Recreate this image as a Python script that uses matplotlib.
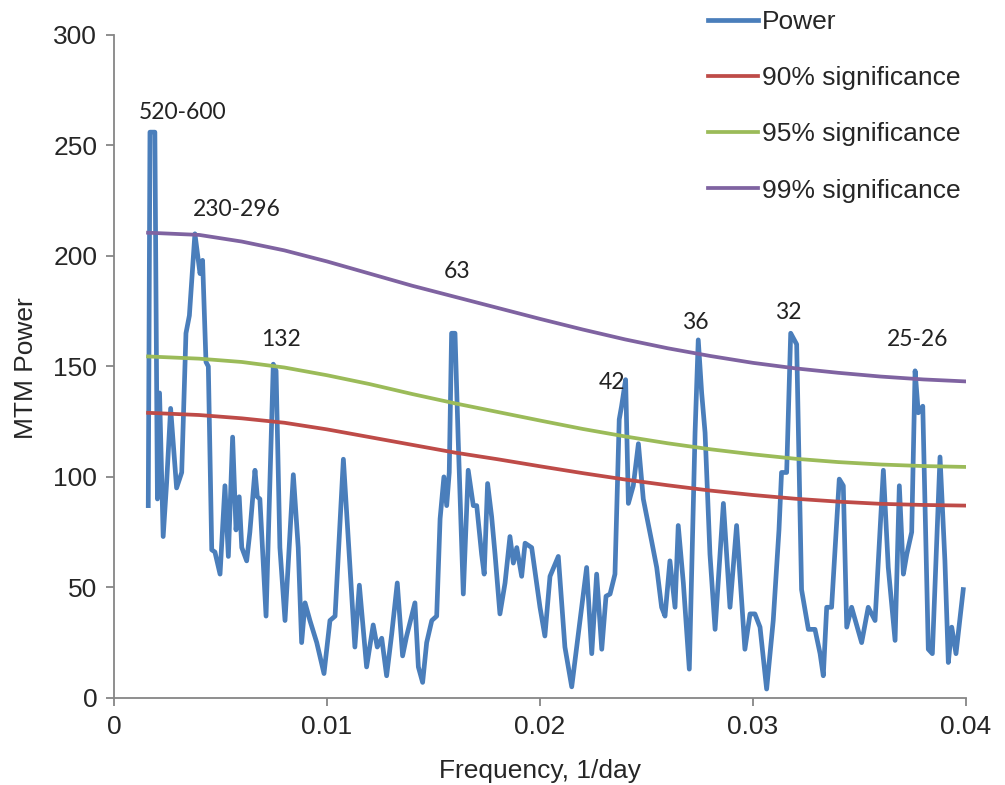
import matplotlib
matplotlib.use("Agg")
import matplotlib.pyplot as plt

# MTM power spectrum (frequency in 1/day)
freq = [0.00161, 0.00169, 0.00192, 0.00204, 0.00214, 0.00231, 0.00247, 0.00266,
        0.00294, 0.00318, 0.00338, 0.00354, 0.00380, 0.00396, 0.00404, 0.00416,
        0.00432, 0.00443, 0.00459, 0.00474, 0.00498, 0.00521, 0.00537, 0.00557,
        0.00573, 0.00588, 0.00600, 0.00623, 0.00638, 0.00662, 0.00673, 0.00685,
        0.00714, 0.00748, 0.00761, 0.00779, 0.00803, 0.00842, 0.00865, 0.00881,
        0.00897, 0.00920, 0.00952, 0.00986, 0.01014, 0.01038, 0.01077, 0.01108,
        0.01131, 0.01152, 0.01186, 0.01217, 0.01236, 0.01257, 0.01280, 0.01304,
        0.01330, 0.01355, 0.01374, 0.01413, 0.01429, 0.01449, 0.01468, 0.01492,
        0.01515, 0.01531, 0.01549, 0.01562, 0.01574, 0.01585, 0.01601, 0.01616,
        0.01640, 0.01663, 0.01687, 0.01703, 0.01726, 0.01738, 0.01754, 0.01773,
        0.01789, 0.01812, 0.01836, 0.01859, 0.01875, 0.01891, 0.01914, 0.01930,
        0.01961, 0.02000, 0.02023, 0.02047, 0.02086, 0.02117, 0.02149, 0.02188,
        0.02219, 0.02243, 0.02266, 0.02290, 0.02310, 0.02329, 0.02352, 0.02372,
        0.02383, 0.02402, 0.02415, 0.02438, 0.02462, 0.02485, 0.02524, 0.02548,
        0.02571, 0.02587, 0.02610, 0.02634, 0.02649, 0.02673, 0.02701, 0.02728,
        0.02743, 0.02759, 0.02775, 0.02798, 0.02822, 0.02861, 0.02892, 0.02923,
        0.02962, 0.02986, 0.03009, 0.03033, 0.03064, 0.03095, 0.03122, 0.03134,
        0.03158, 0.03177, 0.03205, 0.03228, 0.03260, 0.03291, 0.03315, 0.03330,
        0.03346, 0.03369, 0.03405, 0.03424, 0.03440, 0.03463, 0.03510, 0.03541,
        0.03573, 0.03612, 0.03635, 0.03667, 0.03687, 0.03706, 0.03722, 0.03745,
        0.03761, 0.03776, 0.03797, 0.03823, 0.03842, 0.03878, 0.03901, 0.03917,
        0.03933, 0.03953, 0.03987]
power = [87, 256, 256, 90, 138, 73, 97, 131,
         95, 102, 165, 173, 210, 198, 192, 198,
         152, 150, 67, 66, 56, 96, 64, 118,
         76, 91, 68, 62, 75, 103, 91, 90,
         37, 151, 148, 68, 35, 101, 68, 25,
         43, 35, 25, 11, 35, 37, 108, 59,
         23, 51, 14, 33, 23, 27, 10, 29,
         52, 19, 28, 43, 14, 7, 25, 35,
         37, 81, 100, 87, 102, 165, 165, 117,
         47, 103, 87, 87, 65, 56, 97, 82,
         65, 38, 52, 73, 61, 68, 55, 70,
         68, 41, 28, 55, 64, 23, 5, 35,
         59, 20, 56, 22, 46, 47, 56, 126,
         132, 144, 88, 96, 115, 90, 71, 59,
         41, 37, 62, 41, 78, 52, 13, 120,
         162, 138, 120, 65, 31, 88, 41, 78,
         22, 38, 38, 32, 4, 35, 76, 102,
         102, 165, 160, 49, 31, 31, 20, 10,
         41, 41, 99, 96, 32, 41, 25, 41,
         35, 103, 59, 26, 96, 56, 65, 75,
         148, 129, 132, 22, 20, 109, 62, 16,
         32, 20, 49]

# significance levels
sig_freq = [0.0016, 0.004, 0.006, 0.008, 0.010, 0.012, 0.014, 0.016, 0.018, 0.020,
            0.022, 0.024, 0.026, 0.028, 0.030, 0.032, 0.034, 0.036, 0.038, 0.040]
sig90 = [129, 128, 126.5, 124.5, 121.5, 118, 114.5, 111, 108, 104.8,
         101.7, 98.8, 96.2, 93.8, 91.8, 90.1, 88.8, 87.8, 87.3, 87]
sig95 = [154.5, 153.5, 152, 149.5, 146, 142, 137.5, 133.3, 129.4, 125.5,
         121.7, 118.3, 115.2, 112.5, 110.2, 108.2, 106.7, 105.6, 104.9, 104.5]
sig99 = [210.5, 209.5, 206.5, 202.5, 197.5, 192, 186.5, 181.5, 176.5, 171.5,
         166.7, 162.2, 158.2, 154.7, 151.6, 149.1, 147.1, 145.4, 144.1, 143.2]

# period labels (days) placed above the peaks
peak_labels = ["520-600", "230-296", "132", "63", "42", "36", "32", "25-26"]
label_freq = [0.00324, 0.00577, 0.00784, 0.0161, 0.02338, 0.02728, 0.03164, 0.03775]
label_pow = [265, 221, 162, 193, 142.5, 170, 174.6, 162]

plt.rcParams["font.family"] = ["Liberation Sans", "DejaVu Sans"]

fig = plt.figure(figsize=(10.05, 7.85), dpi=100)
ax = fig.add_axes([0.1134, 0.111, 0.8478, 0.8445])

ax.plot(freq, power, color="#4A7EBB", lw=3.4, solid_joinstyle="round",
        label="Power", zorder=2)
ax.plot(sig_freq, sig90, color="#BE4B48", lw=2.7, label="90% significance", zorder=3)
ax.plot(sig_freq, sig95, color="#9BBB59", lw=2.7, label="95% significance", zorder=3)
ax.plot(sig_freq, sig99, color="#7F63A1", lw=2.7, label="99% significance", zorder=3)

for txt, fx, py in zip(peak_labels, label_freq, label_pow):
    ax.text(fx, py, txt, fontsize=16.5, family=["Lato", "DejaVu Sans"],
            color="#222222", ha="center", va="center")

ax.set_xlim(0, 0.04)
ax.set_ylim(0, 300)
ax.set_xticks([0, 0.01, 0.02, 0.03, 0.04])
ax.set_xticklabels(["0", "0.01", "0.02", "0.03", "0.04"])
ax.set_yticks(range(0, 301, 50))

for side in ["top", "right"]:
    ax.spines[side].set_visible(False)
for side in ["left", "bottom"]:
    ax.spines[side].set_color("#868686")
    ax.spines[side].set_linewidth(1.3)
ax.tick_params(colors="#868686", labelcolor="#262626", labelsize=19,
               length=6, width=1.3, direction="out", pad=6)

ax.set_xlabel("Frequency, 1/day", fontsize=19, color="#262626", labelpad=15)
ax.set_ylabel("MTM Power", fontsize=19, color="#262626")
ax.yaxis.set_label_coords(-0.089, 0.497)

leg = ax.legend(loc="upper left", bbox_to_anchor=(708 / 1005, 1 - 10 / 785),
                bbox_transform=fig.transFigure, frameon=False, fontsize=19,
                handlelength=1.9, handletextpad=0.15, labelspacing=1.22,
                borderpad=0, borderaxespad=0)
for t in leg.get_texts():
    t.set_color("#262626")

fig.savefig("out.png", dpi=100, facecolor="white")
